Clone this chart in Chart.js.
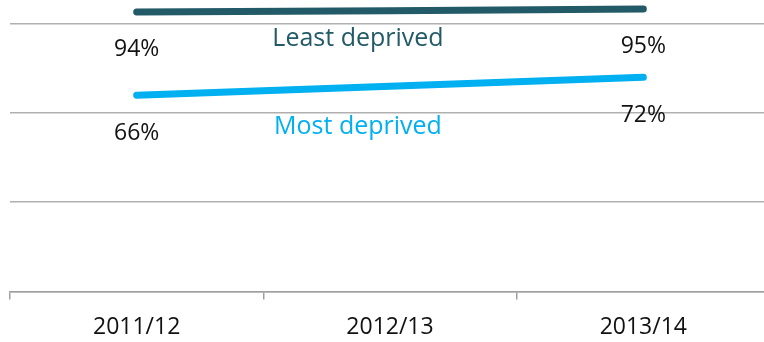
<!DOCTYPE html>
<html>
<head>
<meta charset="utf-8">
<script src="https://cdn.jsdelivr.net/npm/chart.js@4/dist/chart.umd.min.js"></script>
<style>
    html, body { margin: 0; padding: 0; background: #fff; overflow: hidden; }
    #wrap { position: absolute; left: 0; top: 0; width: 780px; height: 357px; }
</style>
</head>
<body>
<div id="wrap"><canvas id="deprivationChart" width="780" height="357"></canvas></div>
<script>
    "use strict";

    // Years and percentages per deprivation group
    const years = ["2011/12", "2012/13", "2013/14"];
    const leastDeprived = [94, 94.4, 95];
    const mostDeprived = [66, 69, 72];
    const seriesNames = ["Least deprived", "Most deprived"];
    const gridValues = [0, 30, 60, 90];

    const darkTeal = "#225a67";
    const lightBlue = "#00b0f0";
    const fontFamily = "'Open Sans', sans-serif";

    // Writes the first/last values under each line and the series name near the middle
    const lineLabels = {
        id: "lineLabels",
        afterDatasetsDraw(chart, args, opts) {
            const ctx = chart.ctx;
            ctx.save();
            ctx.textAlign = "center";
            ctx.textBaseline = "middle";
            chart.data.datasets.forEach((ds, i) => {
                const pts = chart.getDatasetMeta(i).data;
                ctx.font = "23px " + fontFamily;
                ctx.fillStyle = "#111";
                [0, pts.length - 1].forEach((j) => {
                    ctx.fillText(ds.data[j] + "%", pts[j].x, pts[j].y + 38);
                });
                const mid = pts[1];
                const off = opts.nameOffsets[i];
                ctx.font = "25px " + fontFamily;
                ctx.fillStyle = ds.borderColor;
                ctx.fillText(ds.label, mid.x + off[0], mid.y + off[1]);
            });
            ctx.restore();
        },
    };

    new Chart(document.getElementById("deprivationChart"), {
        type: "line",
        data: {
            labels: years,
            datasets: [
                {
                    label: seriesNames[0],
                    data: leastDeprived,
                    borderColor: darkTeal,
                    borderWidth: 7,
                    borderCapStyle: "round",
                    pointRadius: 0,
                    tension: 0,
                },
                {
                    label: seriesNames[1],
                    data: mostDeprived,
                    borderColor: lightBlue,
                    borderWidth: 7,
                    borderCapStyle: "round",
                    pointRadius: 0,
                    tension: 0,
                },
            ],
        },
        options: {
            responsive: false,
            animation: false,
            layout: { padding: { left: 10, right: 10, top: 0, bottom: 2 } },
            plugins: {
                legend: { display: false },
                tooltip: { enabled: false },
                lineLabels: { nameOffsets: [[-32, 28.5], [-32, 40.5]] },
            },
            scales: {
                x: {
                    offset: true,
                    grid: {
                        offset: true,
                        drawOnChartArea: false,
                        drawTicks: true,
                        tickLength: 8,
                        color: "#a0a0a0",
                        lineWidth: 1.5,
                    },
                    border: { color: "#a0a0a0", width: 1.5 },
                    ticks: {
                        color: "#111",
                        padding: 14,
                        font: { family: fontFamily, size: 23 },
                        maxRotation: 0,
                    },
                },
                y: {
                    min: 0,
                    max: 98,
                    afterBuildTicks(scale) {
                        scale.ticks = gridValues.map((v) => ({ value: v }));
                    },
                    ticks: { display: false },
                    border: { display: false },
                    grid: {
                        drawTicks: false,
                        color: "#b0b0b0",
                        lineWidth: 1.5,
                    },
                },
            },
        },
        plugins: [lineLabels],
    });
</script>
</body>
</html>
